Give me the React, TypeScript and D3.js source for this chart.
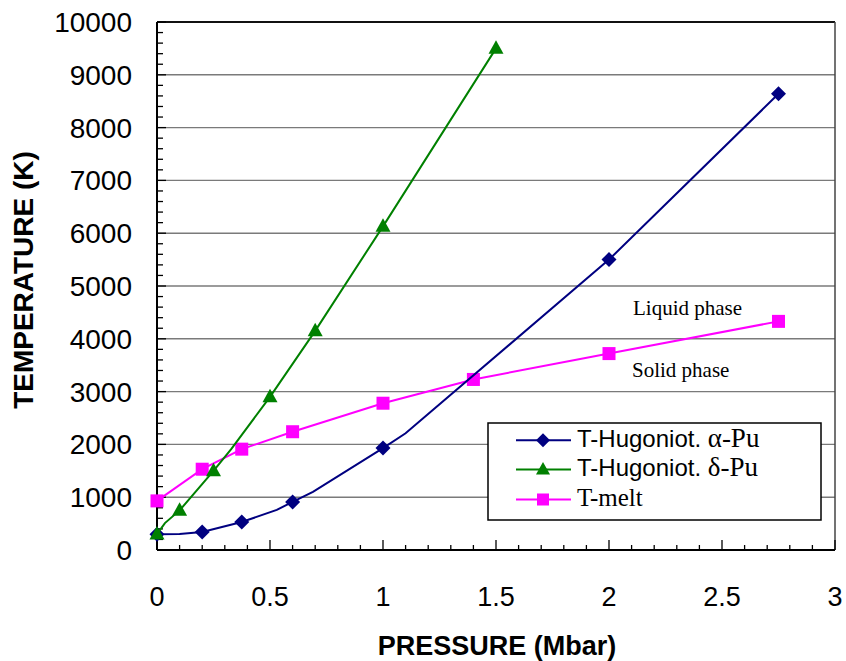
import React from "react";
import * as d3 from "d3";

// ---- data ----
const alphaLineP = [0, 0.1, 0.2, 0.375, 0.53, 0.6, 0.69, 1.0, 1.1, 2.0, 2.75];
const alphaLineT = [300, 305, 340, 530, 760, 910, 1100, 1930, 2210, 5500, 8640];
const alphaMarkP = [0, 0.2, 0.375, 0.6, 1.0, 2.0, 2.75];
const alphaMarkT = [300, 340, 530, 910, 1930, 5500, 8640];

const deltaLineP = [0, 0.035, 0.1, 0.25, 0.33, 0.5, 0.7, 1.0, 1.5];
const deltaLineT = [300, 510, 750, 1500, 1920, 2900, 4150, 6130, 9500];
const deltaMarkP = [0, 0.1, 0.25, 0.5, 0.7, 1.0, 1.5];
const deltaMarkT = [300, 750, 1500, 2900, 4150, 6130, 9500];

const meltP = [0, 0.2, 0.375, 0.6, 1.0, 1.4, 2.0, 2.75];
const meltT = [930, 1530, 1910, 2240, 2780, 3230, 3720, 4330];

const xTicks = [0, 0.5, 1, 1.5, 2, 2.5, 3];
const xTickLabels = ["0", "0.5", "1", "1.5", "2", "2.5", "3"];
const yTicks = [0, 1000, 2000, 3000, 4000, 5000, 6000, 7000, 8000, 9000, 10000];

const SANS = "'Liberation Sans', Arial, sans-serif";
const SERIF = "'Liberation Serif', 'Times New Roman', serif";

const NAVY = "#000080";
const GREEN = "#008000";
const MAGENTA = "#FF00FF";

export default function App() {
  const W = 846, H = 661;
  const x = d3.scaleLinear().domain([0, 3]).range([157, 835]);
  const y = d3.scaleLinear().domain([0, 10000]).range([550, 22]);

  const line = d3
    .line<[number, number]>()
    .x((d) => x(d[0]))
    .y((d) => y(d[1]))
    .curve(d3.curveLinear);

  const zip = (a: number[], b: number[]) => a.map((v, i) => [v, b[i]] as [number, number]);

  const minorX = d3.range(0, 30.01, 1).map((v) => v / 10);
  const minorY = d3.range(0, 10001, 200);

  const diamond = (cx: number, cy: number, r = 7.5) =>
    `M${cx},${cy - r}L${cx + r},${cy}L${cx},${cy + r}L${cx - r},${cy}Z`;
  const triangle = (cx: number, cy: number, s = 15) => {
    const h = s * 0.9;
    return `M${cx},${cy - h * 0.6}L${cx + s / 2},${cy + h * 0.4}L${cx - s / 2},${cy + h * 0.4}Z`;
  };
  const square = (cx: number, cy: number, s = 13) => (
    <rect x={cx - s / 2} y={cy - s / 2} width={s} height={s} fill={MAGENTA} />
  );

  const legendX = 488, legendY = 423, legendW = 333, legendH = 97;
  const rows = [446.7, 476, 506];

  return (
    <div style={{ position: "absolute", left: 0, top: 0 }}>
      <svg width={W} height={H} style={{ display: "block", background: "#fff" }}>
        <rect x={0} y={0} width={W} height={H} fill="#fff" />
        {/* gridlines */}
        {yTicks.slice(1).map((t) => (
          <line key={"g" + t} x1={x(0)} x2={x(3)} y1={y(t)} y2={y(t)} stroke="#7a7a7a" strokeWidth={1.4} />
        ))}
        {/* frame top/right */}
        <line x1={x(0)} x2={x(3)} y1={y(10000)} y2={y(10000)} stroke="#111" strokeWidth={2} />
        <line x1={x(3)} x2={x(3)} y1={y(10000)} y2={y(0)} stroke="#444" strokeWidth={1.5} />

        {/* axes */}
        <line x1={x(0)} x2={x(3)} y1={y(0)} y2={y(0)} stroke="#000" strokeWidth={2} />
        <line x1={x(0)} x2={x(0)} y1={y(0)} y2={y(10000)} stroke="#000" strokeWidth={2} />
        {minorX.map((v, i) => (
          <line key={"mx" + i} x1={x(v)} x2={x(v)} y1={y(0)} y2={y(0) - (i % 5 === 0 ? 10 : 5)} stroke="#000" strokeWidth={1.3} />
        ))}
        {minorY.map((v, i) => (
          <line key={"my" + i} x1={x(0)} x2={x(0) + (i % 5 === 0 ? 9 : 6)} y1={y(v)} y2={y(v)} stroke="#000" strokeWidth={1.3} />
        ))}

        {/* tick labels */}
        {yTicks.map((t) => (
          <text key={"yl" + t} x={132} y={y(t) + 10} textAnchor="end" fontFamily={SANS} fontSize={28} fill="#000">
            {t}
          </text>
        ))}
        {xTicks.map((t, i) => (
          <text key={"xl" + t} x={x(t)} y={606} textAnchor="middle" fontFamily={SANS} fontSize={27} fill="#000">
            {xTickLabels[i]}
          </text>
        ))}

        {/* axis titles */}
        <text x={497} y={655} textAnchor="middle" fontFamily={SANS} fontWeight="bold" fontSize={27} fill="#000">
          PRESSURE (Mbar)
        </text>
        <text
          transform="translate(33,280) rotate(-90)"
          textAnchor="middle"
          fontFamily={SANS}
          fontWeight="bold"
          fontSize={28}
          fill="#000"
        >
          TEMPERATURE (K)
        </text>

        {/* series lines */}
        <path d={line(zip(meltP, meltT)) || ""} fill="none" stroke={MAGENTA} strokeWidth={2} />
        {meltP.map((p, i) => (
          <g key={"ms" + i}>{square(x(p), y(meltT[i]))}</g>
        ))}
        <path d={line(zip(alphaLineP, alphaLineT)) || ""} fill="none" stroke={NAVY} strokeWidth={2} />
        {alphaMarkP.map((p, i) => (
          <path key={"ad" + i} d={diamond(x(p), y(alphaMarkT[i]))} fill={NAVY} />
        ))}
        <path d={line(zip(deltaLineP, deltaLineT)) || ""} fill="none" stroke={GREEN} strokeWidth={2} />
        {deltaMarkP.map((p, i) => (
          <path key={"dt" + i} d={triangle(x(p), y(deltaMarkT[i]))} fill={GREEN} />
        ))}

        {/* annotations */}
        <text x={633} y={315} fontFamily={SERIF} fontSize={21} fill="#000">Liquid phase</text>
        <text x={632} y={377} fontFamily={SERIF} fontSize={21} fill="#000">Solid phase</text>

        {/* legend */}
        <rect x={legendX} y={legendY} width={legendW} height={legendH} fill="#fff" stroke="#000" strokeWidth={1.5} />
        <line x1={516} x2={571} y1={rows[0] - 6.5} y2={rows[0] - 6.5} stroke={NAVY} strokeWidth={2} />
        <path d={diamond(543, rows[0] - 6.5, 7)} fill={NAVY} />
        <line x1={516} x2={571} y1={rows[1] - 6.5} y2={rows[1] - 6.5} stroke={GREEN} strokeWidth={2} />
        <path d={triangle(543, rows[1] - 6.5, 14)} fill={GREEN} />
        <line x1={516} x2={571} y1={rows[2] - 6.5} y2={rows[2] - 6.5} stroke={MAGENTA} strokeWidth={2} />
        {square(543, rows[2] - 6.5, 12)}
        <text x={577} y={rows[0]} fontSize={24} fill="#000">
          <tspan fontFamily={SANS}>T-Hugoniot. </tspan>
          <tspan fontFamily={SERIF} fontSize={27}>α-Pu</tspan>
        </text>
        <text x={577} y={rows[1]} fontSize={24} fill="#000">
          <tspan fontFamily={SANS}>T-Hugoniot. </tspan>
          <tspan fontFamily={SERIF} fontSize={27}>δ-Pu</tspan>
        </text>
        <text x={577} y={rows[2]} fontSize={25} fontFamily={SERIF} fill="#000">
          T-melt
        </text>
      </svg>
    </div>
  );
}
